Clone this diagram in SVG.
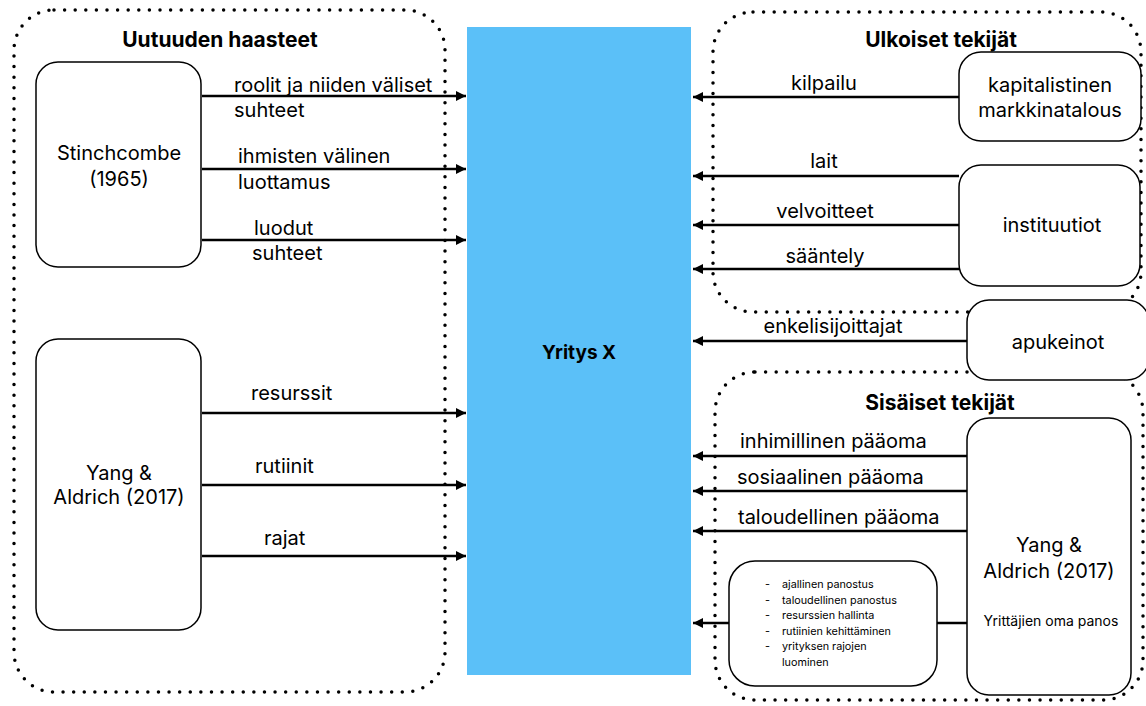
<svg xmlns="http://www.w3.org/2000/svg" width="1146" height="706" viewBox="0 0 1146 706">
<style>
.frame{fill:none;stroke:#000;stroke-width:3.5;stroke-linecap:round;stroke-dasharray:0 10.6}
.box{fill:#fff;stroke:#000;stroke-width:1.5}
.t{font-family:Inter,"Liberation Sans",Arial,sans-serif;font-size:20px;fill:#000}
.h{font-family:Inter,"Liberation Sans",Arial,sans-serif;font-size:21px;font-weight:bold;fill:#000}
.s{font-family:Inter,"Liberation Sans",Arial,sans-serif;font-size:10.8px;fill:#000}
.c{text-anchor:middle}
.ln{stroke:#000;stroke-width:2.5;fill:none}
</style>
<defs>
<marker id="ah" viewBox="0 0 10 10" refX="10" refY="5" markerWidth="5" markerHeight="4" orient="auto" markerUnits="strokeWidth">
<path d="M0,0 L10,5 L0,10 z" fill="#000"/>
</marker>
</defs>
<rect width="1146" height="706" fill="#fff"/>
<g id="frames">
<rect class="frame" x="14" y="10" width="431" height="682" rx="40"/>
<rect class="frame" x="713" y="12" width="428" height="300" rx="40"/>
<rect class="frame" x="715" y="372" width="428" height="328" rx="40"/>
</g>
<g id="titles">
<text class="h c" x="220" y="47">Uutuuden haasteet</text>
<text class="h c" x="941" y="47">Ulkoiset tekijät</text>
<text class="h c" x="940" y="410">Sisäiset tekijät</text>
</g>
<g id="yritys">
<rect x="467" y="27" width="224" height="648" fill="#5BC0F8"/>
<text class="h c" x="579" y="359" style="font-size:19px">Yritys X</text>
</g>
<g id="stinchcombe">
<rect class="box" x="36" y="62" width="165" height="205" rx="22"/>
<text class="t c" x="119" y="160">Stinchcombe</text>
<text class="t c" x="119" y="186">(1965)</text>
</g>
<g id="yang-left">
<rect class="box" x="36" y="339" width="165" height="291" rx="22"/>
<text class="t c" x="119" y="480">Yang &amp;</text>
<text class="t c" x="119" y="504">Aldrich (2017)</text>
</g>
<g id="kapitalistinen">
<rect class="box" x="959" y="52" width="182" height="89" rx="22"/>
<text class="t c" x="1050" y="92">kapitalistinen</text>
<text class="t c" x="1050" y="117">markkinatalous</text>
</g>
<g id="instituutiot">
<rect class="box" x="959" y="165" width="181" height="121" rx="22"/>
<text class="t c" x="1052" y="232">instituutiot</text>
</g>
<g id="apukeinot">
<rect class="box" x="967" y="300" width="182" height="80" rx="22"/>
<text class="t c" x="1058" y="349">apukeinot</text>
</g>
<g id="yang-right">
<rect class="box" x="967" y="418" width="164" height="277" rx="22"/>
<text class="t c" x="1049" y="552">Yang &amp;</text>
<text class="t c" x="1049" y="578">Aldrich (2017)</text>
<text class="s c" x="1051" y="626" style="font-size:14px">Yrittäjien oma panos</text>
</g>
<g id="panos">
<rect class="box" x="729" y="561" width="208" height="125" rx="26"/>
<g class="s">
<text x="765" y="588">-</text><text x="782" y="588">ajallinen panostus</text>
<text x="765" y="604">-</text><text x="782" y="604">taloudellinen panostus</text>
<text x="765" y="619">-</text><text x="782" y="619">resurssien hallinta</text>
<text x="765" y="635">-</text><text x="782" y="635">rutiinien kehittäminen</text>
<text x="765" y="650">-</text><text x="782" y="650">yrityksen rajojen</text>
<text x="782" y="666">luominen</text>
</g>
</g>
<g id="connectors">
<line class="ln" x1="202" y1="96" x2="466" y2="96" marker-end="url(#ah)"/>
<line class="ln" x1="202" y1="169" x2="466" y2="169" marker-end="url(#ah)"/>
<line class="ln" x1="202" y1="240" x2="466" y2="240" marker-end="url(#ah)"/>
<line class="ln" x1="202" y1="413" x2="466" y2="413" marker-end="url(#ah)"/>
<line class="ln" x1="202" y1="485" x2="466" y2="485" marker-end="url(#ah)"/>
<line class="ln" x1="202" y1="556" x2="466" y2="556" marker-end="url(#ah)"/>
<line class="ln" x1="959" y1="97" x2="693" y2="97" marker-end="url(#ah)"/>
<line class="ln" x1="959" y1="176" x2="693" y2="176" marker-end="url(#ah)"/>
<line class="ln" x1="959" y1="225" x2="693" y2="225" marker-end="url(#ah)"/>
<line class="ln" x1="959" y1="269" x2="693" y2="269" marker-end="url(#ah)"/>
<line class="ln" x1="967" y1="341" x2="693" y2="341" marker-end="url(#ah)"/>
<line class="ln" x1="967" y1="456" x2="693" y2="456" marker-end="url(#ah)"/>
<line class="ln" x1="967" y1="491" x2="693" y2="491" marker-end="url(#ah)"/>
<line class="ln" x1="967" y1="531" x2="693" y2="531" marker-end="url(#ah)"/>
<line class="ln" x1="937" y1="623" x2="967" y2="623"/>
<line class="ln" x1="729" y1="623" x2="693" y2="623" marker-end="url(#ah)"/>
</g>
<g id="labels" class="t">
<text x="234" y="92">roolit ja niiden väliset</text>
<text x="234" y="117">suhteet</text>
<text x="238" y="163">ihmisten välinen</text>
<text x="238" y="189">luottamus</text>
<text x="254" y="235">luodut</text>
<text x="252" y="260">suhteet</text>
<text x="251" y="400">resurssit</text>
<text x="255" y="473">rutiinit</text>
<text x="264" y="545">rajat</text>
<text class="c" x="824" y="90">kilpailu</text>
<text class="c" x="824" y="168">lait</text>
<text class="c" x="825" y="218">velvoitteet</text>
<text class="c" x="825" y="263">sääntely</text>
<text class="c" x="833" y="333">enkelisijoittajat</text>
<text x="740" y="448">inhimillinen pääoma</text>
<text x="737" y="484">sosiaalinen pääoma</text>
<text x="738" y="524">taloudellinen pääoma</text>
</g>
</svg>
